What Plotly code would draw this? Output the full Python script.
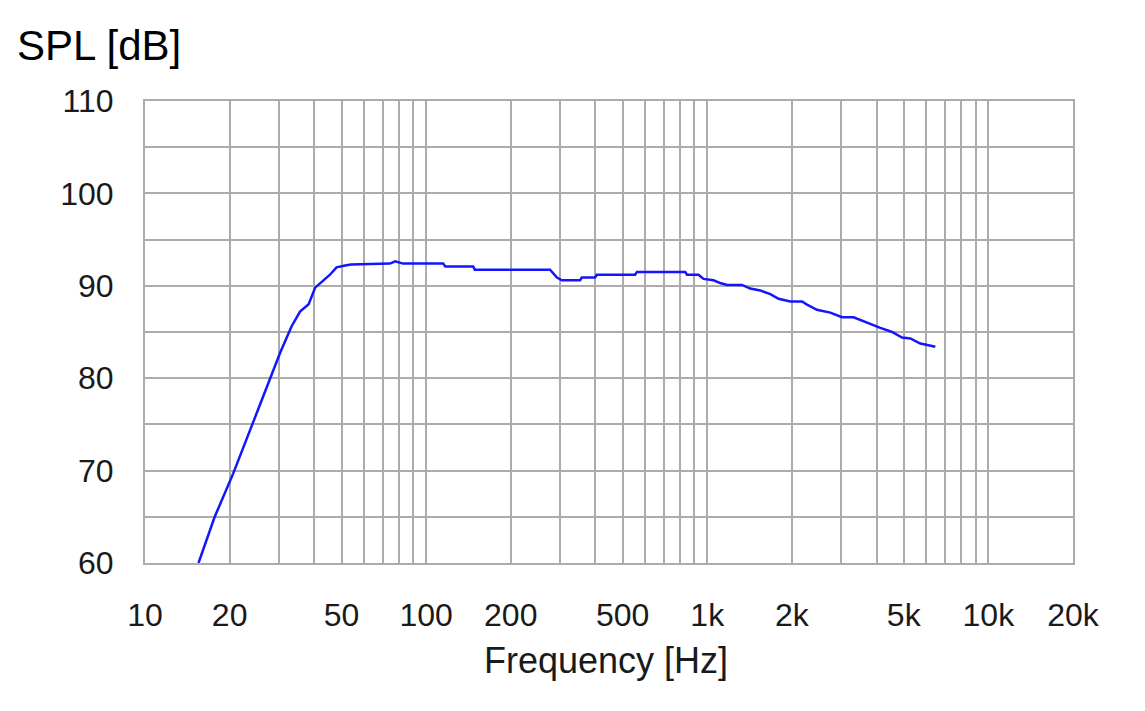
import plotly.graph_objects as go

# Frequency response data
freq_hz = [15.5, 17.7, 20.6, 23.9, 27.8, 30.2, 33.2, 35.6, 38.2, 40.3, 45.5, 48.0, 51.5, 54.0,
           74.4, 77.6, 82.8,
           115, 117, 147, 149, 276, 292, 304, 353, 358, 399, 405, 554, 562, 835, 847, 931,
           970, 1053, 1112, 1175, 1329, 1422, 1544, 1676, 1794, 1974, 2173, 2264, 2455, 2740,
           3015, 3316, 3500, 3852, 4128, 4541, 4931, 5277, 5728, 6477]
spl_db = [60.0, 65.0, 69.7, 74.8, 79.8, 82.7, 85.6, 87.2, 88.0, 89.8, 91.2, 92.0, 92.2, 92.3,
          92.4, 92.65, 92.4,
          92.4, 92.1, 92.1, 91.75, 91.75, 90.9, 90.6, 90.6, 90.9, 90.9, 91.2, 91.2, 91.5, 91.5, 91.2, 91.2,
          90.75, 90.6, 90.3, 90.1, 90.1, 89.7, 89.5, 89.1, 88.6, 88.3, 88.3, 87.97, 87.4, 87.1,
          86.6, 86.6, 86.3, 85.8, 85.45, 85.0, 84.4, 84.3, 83.75, 83.4]

# Axis grid / tick definitions
x_grid = [10, 20, 30, 40, 50, 60, 70, 80, 90,
          100, 200, 300, 400, 500, 600, 700, 800, 900,
          1000, 2000, 3000, 4000, 5000, 6000, 7000, 8000, 9000,
          10000, 20000]
x_labels = {10: "10", 20: "20", 50: "50", 100: "100", 200: "200", 500: "500",
            1000: "1k", 2000: "2k", 5000: "5k", 10000: "10k", 20000: "20k"}
y_grid = [60, 65, 70, 75, 80, 85, 90, 95, 100, 105, 110]
y_labels = {60: "60", 70: "70", 80: "80", 90: "90", 100: "100", 110: "110"}

GRID = "rgb(172,172,172)"
TICKFONT = dict(family="Liberation Sans, Arial, sans-serif", size=32, color="#1a1a1a")

fig = go.Figure()
fig.add_trace(go.Scatter(
    x=freq_hz, y=spl_db, mode="lines",
    line=dict(color="rgb(20,20,255)", width=2.5),
    showlegend=False, hoverinfo="x+y"))

fig.update_layout(
    width=1145, height=711,
    margin=dict(l=137, r=80, t=93, b=156),
    paper_bgcolor="white", plot_bgcolor="white",
    xaxis=dict(
        type="log", range=[1, 4.30103],
        tickvals=x_grid, ticktext=[x_labels.get(v, "") for v in x_grid],
        showgrid=True, gridcolor=GRID, gridwidth=2,
        showline=True, linecolor=GRID, linewidth=2, mirror=True,
        ticks="", ticklabelstandoff=23, tickfont=TICKFONT, zeroline=False,
    ),
    yaxis=dict(
        range=[60, 110],
        tickvals=y_grid, ticktext=[y_labels.get(v, "") for v in y_grid],
        showgrid=True, gridcolor=GRID, gridwidth=2,
        showline=True, linecolor=GRID, linewidth=2, mirror=True,
        ticks="", ticklabelstandoff=23, tickfont=TICKFONT, zeroline=False,
    ),
    annotations=[
        dict(text="SPL [dB]", xref="paper", yref="paper", x=-0.14, y=1.0,
             xanchor="left", yanchor="bottom", yshift=30, showarrow=False,
             font=dict(family="Liberation Sans, Arial, sans-serif", size=42, color="black")),
        dict(text="Frequency [Hz]", xref="paper", yref="paper", x=0.497, y=0,
             xanchor="center", yanchor="top", yshift=-75, showarrow=False,
             font=dict(family="Liberation Sans, Arial, sans-serif", size=36, color="#1a1a1a")),
    ],
)

fig.write_html("out.html")
